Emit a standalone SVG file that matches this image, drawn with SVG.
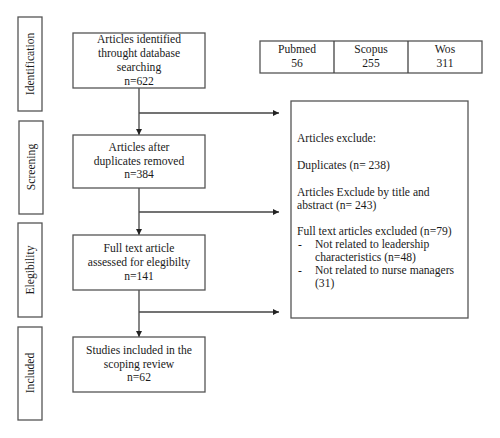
<svg xmlns="http://www.w3.org/2000/svg" width="500" height="438" viewBox="0 0 500 438">
<style>
text{font-family:"Liberation Serif","Times New Roman",serif;font-size:11.6px;fill:#1a1a1a}
.c{text-anchor:middle}
.box{fill:#fff;stroke:#555;stroke-width:1.3}
.ln{fill:none;stroke:#444;stroke-width:1.3}
</style>
<defs>
<marker id="ah" viewBox="0 0 10 10" refX="10" refY="5" markerWidth="6" markerHeight="6" markerUnits="userSpaceOnUse" orient="auto">
<path d="M0,0 L10,5 L0,10 z" fill="#222"/>
</marker>
</defs>
<rect width="500" height="438" fill="#fff"/>

<g id="stage-identification">
<rect class="box" x="18" y="17" width="24" height="94"/>
<text class="c" transform="translate(34,64) rotate(-90)">Identification</text>
</g>
<g id="stage-screening">
<rect class="box" x="19" y="121" width="24" height="93"/>
<text class="c" transform="translate(35,167) rotate(-90)">Screening</text>
</g>
<g id="stage-eligibility">
<rect class="box" x="18" y="223" width="24" height="94"/>
<text class="c" transform="translate(34,270) rotate(-90)">Elegibility</text>
</g>
<g id="stage-included">
<rect class="box" x="18" y="327" width="24" height="93"/>
<text class="c" transform="translate(34,373) rotate(-90)">Included</text>
</g>

<g id="connectors">
<path class="ln" d="M139,88 V135" marker-end="url(#ah)"/>
<path class="ln" d="M139,113 H279" marker-end="url(#ah)"/>
<path class="ln" d="M139,188 V235" marker-end="url(#ah)"/>
<path class="ln" d="M139,212 H279" marker-end="url(#ah)"/>
<path class="ln" d="M139,290 V337" marker-end="url(#ah)"/>
<path class="ln" d="M139,312 H279" marker-end="url(#ah)"/>
</g>

<g id="identified">
<rect class="box" x="73" y="33" width="132" height="55"/>
<text class="c" x="139" y="43">Articles identified</text>
<text class="c" x="139" y="57">throught database</text>
<text class="c" x="139" y="71">searching</text>
<text class="c" x="139" y="85">n=622</text>
</g>
<g id="screened">
<rect class="box" x="73" y="135" width="132" height="53"/>
<text class="c" x="139" y="151">Articles after</text>
<text class="c" x="139" y="165">duplicates removed</text>
<text class="c" x="139" y="178">n=384</text>
</g>
<g id="eligible">
<rect class="box" x="73" y="235" width="132" height="55"/>
<text class="c" x="139" y="252">Full text article</text>
<text class="c" x="139" y="266">assessed for elegibilty</text>
<text class="c" x="139" y="280">n=141</text>
</g>
<g id="included">
<rect class="box" x="73" y="337" width="132" height="55"/>
<text class="c" x="139" y="354">Studies included in the</text>
<text class="c" x="139" y="368">scoping review</text>
<text class="c" x="139" y="381">n=62</text>
</g>

<g id="databases">
<rect class="box" x="260" y="41" width="222" height="32"/>
<path class="ln" d="M334,41 V73 M408,41 V73"/>
<text class="c" x="297" y="53">Pubmed</text>
<text class="c" x="297" y="67">56</text>
<text class="c" x="371" y="53">Scopus</text>
<text class="c" x="371" y="67">255</text>
<text class="c" x="445" y="53">Wos</text>
<text class="c" x="445" y="67">311</text>
</g>

<g id="excluded">
<rect class="box" x="291" y="101" width="177" height="217"/>
<text x="297" y="142">Articles exclude:</text>
<text x="297" y="169">Duplicates (n= 238)</text>
<text x="297" y="196">Articles Exclude by title and</text>
<text x="297" y="209">abstract (n= 243)</text>
<text x="297" y="235">Full text articles excluded (n=79)</text>
<text x="298" y="248">-</text>
<text x="315" y="248">Not related to leadership</text>
<text x="315" y="261">characteristics (n=48)</text>
<text x="298" y="274">-</text>
<text x="315" y="274">Not related to nurse managers</text>
<text x="315" y="287">(31)</text>
</g>
</svg>
